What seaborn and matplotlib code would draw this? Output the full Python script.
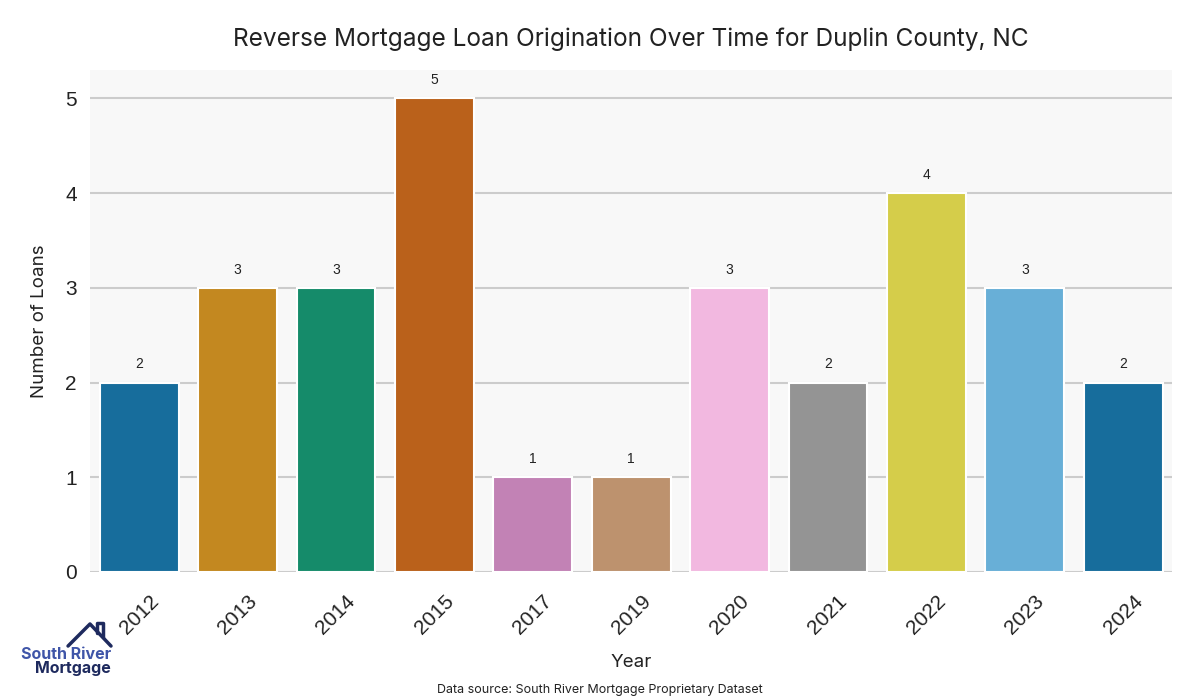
import pandas as pd
import matplotlib.pyplot as plt
import seaborn as sns

years = ["2012", "2013", "2014", "2015", "2017", "2019", "2020", "2021", "2022", "2023", "2024"]
loans = [2, 3, 3, 5, 1, 1, 3, 2, 4, 3, 2]

TITLE_FONT = ["Inter", "DejaVu Sans"]


def plot():
    df = pd.DataFrame({"Year": years, "Loans": loans})

    sns.set_theme(style="whitegrid")
    plt.rcParams["font.family"] = ["Liberation Sans", "DejaVu Sans"]

    fig = plt.figure(figsize=(12, 7), dpi=100)
    ax = fig.add_axes([0.075, 0.183, 0.902, 0.717])
    ax.set_facecolor("#f8f8f8")

    sns.barplot(data=df, x="Year", y="Loans", hue="Year", palette="colorblind",
                legend=False, ax=ax, width=0.8, edgecolor="white", linewidth=1.5)

    for c in ax.containers:
        ax.bar_label(c, padding=8, fontsize=10, color="#222222")

    ax.set_xlim(-0.5, 10.5)
    ax.set_ylim(0, 5.3)
    ax.set_yticks([0, 1, 2, 3, 4, 5])
    ax.grid(axis="y", color="#cccccc", linewidth=1.5)
    ax.grid(axis="x", visible=False)
    sns.despine(ax=ax, left=True, bottom=True)

    ax.tick_params(axis="x", labelsize=15, rotation=45, colors="#222222", pad=8)
    ax.tick_params(axis="y", labelsize=15, colors="#222222")
    for lbl in ax.get_xticklabels():
        lbl.set_ha("center")

    ax.set_xlabel("Year", fontsize=13.5, family=TITLE_FONT, color="#222222", labelpad=12)
    ax.set_ylabel("Number of Loans", fontsize=13.5, family=TITLE_FONT, color="#222222", labelpad=12)
    ax.set_title("Reverse Mortgage Loan Origination Over Time for Duplin County, NC",
                 fontsize=17.6, family=TITLE_FONT, color="#222222", pad=17)

    fig.text(0.5, 0.01, "Data source: South River Mortgage Proprietary Dataset",
             ha="center", fontsize=9, family=TITLE_FONT, color="#222222")

    # logo
    fig.text(0.0925, 0.0586, "South River", fontsize=11.5, fontweight="bold", ha="right",
             va="baseline", color="#3f55a8", family=TITLE_FONT)
    fig.text(0.0925, 0.0386, "Mortgage", fontsize=11.5, fontweight="bold", ha="right",
             va="baseline", color="#1e2a5e", family=TITLE_FONT)
    fig.add_artist(plt.Line2D([0.0567, 0.075, 0.0925], [0.0771, 0.1086, 0.0771],
                              transform=fig.transFigure, color="#1e2a5e", linewidth=2.5))
    fig.add_artist(plt.Line2D([0.0808, 0.0808, 0.0858, 0.0858], [0.0957, 0.11, 0.11, 0.09],
                              transform=fig.transFigure, color="#1e2a5e", linewidth=2.5))

    fig.savefig("out.png", dpi=100)


if __name__ == "__main__":
    plot()
